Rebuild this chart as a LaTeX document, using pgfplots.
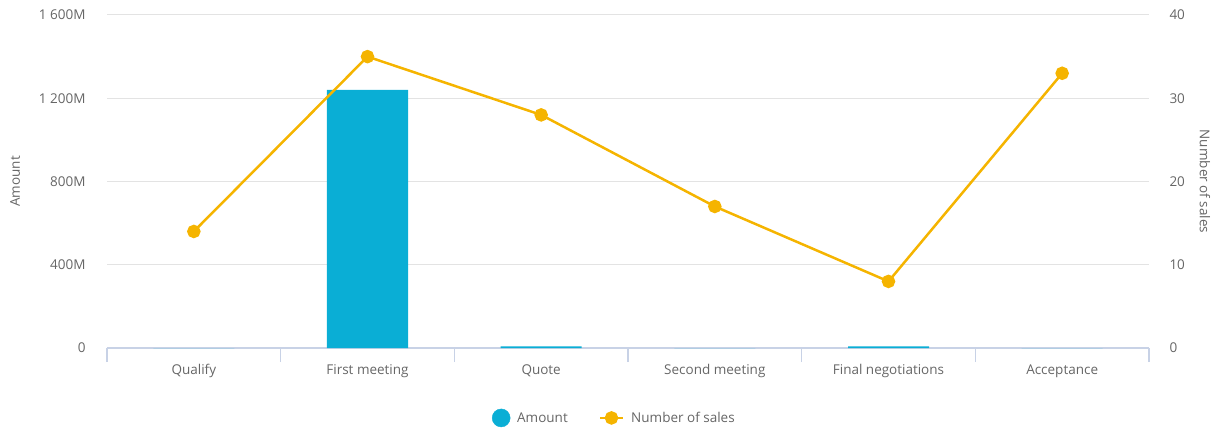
\documentclass[border=0pt]{standalone}
\usepackage{pgfplots}
\pgfplotsset{compat=1.18}
\usepackage{fontspec}
\setmainfont{Open Sans}
\definecolor{barc}{HTML}{0AAED5}
\definecolor{lnc}{HTML}{F5B400}
\definecolor{txt}{HTML}{666666}
\definecolor{grd}{HTML}{E3E3E3}
\definecolor{axl}{HTML}{C8D2E6}
\newcommand\f{\fontsize{13.5bp}{16bp}\selectfont}
\begin{document}
\begin{tikzpicture}
\begin{axis}[
  at={(0,0)}, anchor=south west,
  scale only axis, width=1042bp, height=333bp,
  xmin=-0.5, xmax=5.5, ymin=0, ymax=1600,
  axis x line*=bottom, axis y line*=left,
  y axis line style={draw=none},
  x axis line style={axl, line width=1.5bp, -},
  tick align=outside,
  xtick={0,1,2,3,4,5},
  xticklabels={Qualify,First meeting,Quote,Second meeting,Final negotiations,Acceptance},
  minor xtick={-0.5,0.5,1.5,2.5,3.5,4.5,5.5},
  major x tick style={draw=none},
  minor x tick style={axl, line width=1.5bp},
  minor tick length=14bp,
  major tick length=0pt,
  ytick={0,400,800,1200,1600},
  yticklabels={0,400M,800M,1 200M,1 600M},
  ymajorgrids, grid style={grd, line width=1bp},
  major y tick style={draw=none},
  /pgf/number format/assume math mode=true,
  xticklabel style={font=\f, text=txt, yshift=-13bp, text height=10bp, text depth=3bp},
  yticklabel style={font=\f, text=txt, xshift=-18bp},
  ylabel={Amount},
  every axis y label/.style={at={(rel axis cs:0,0.5)}, xshift=-92bp, rotate=90, anchor=center, font=\f, text=txt},
  clip=false,
]
\addplot[ybar, bar width=81bp, bar shift=0pt, fill=barc, draw=none] coordinates {
  (0,0) (1,1240) (2,8) (3,0) (4,8) (5,0)
};
\end{axis}
\begin{axis}[
  at={(0,0)}, anchor=south west,
  scale only axis, width=1042bp, height=333bp,
  xmin=-0.5, xmax=5.5, ymin=0, ymax=40,
  axis x line=none, axis y line*=right,
  y axis line style={draw=none},
  major tick length=0pt,
  ytick={0,10,20,30,40},
  major y tick style={draw=none},
  /pgf/number format/assume math mode=true,
  yticklabel style={font=\f, text=txt, xshift=17bp},
  ylabel={Number of sales},
  every axis y label/.style={at={(rel axis cs:1,0.5)}, xshift=56bp, rotate=-90, anchor=center, font=\f, text=txt},
  legend style={at={(0.487,-0.21)}, anchor=center, draw=none, font=\f, text=txt, legend columns=2},
  legend cell align=left,
  /tikz/every even column/.append style={column sep=29bp},
  /tikz/every odd column/.append style={column sep=5bp},
  clip=false,
]
\addlegendimage{only marks, mark=*, mark size=9bp, mark options={fill=barc, draw=barc}}
\addlegendentry{Amount}
\addplot[lnc, line width=2.5bp, mark=*, mark size=5.5bp, mark options={fill=lnc, draw=lnc},
  legend image code/.code={\draw[mark repeat=2, mark phase=2] plot coordinates {(0bp,0bp) (11.5bp,0bp) (23bp,0bp)};}] coordinates {
  (0,14) (1,35) (2,28) (3,17) (4,8) (5,33)
};
\addlegendentry{Number of sales}
\end{axis}
\pgfresetboundingbox
\path (-107bp,-81bp) rectangle (1107bp,348bp);
\end{tikzpicture}
\end{document}
